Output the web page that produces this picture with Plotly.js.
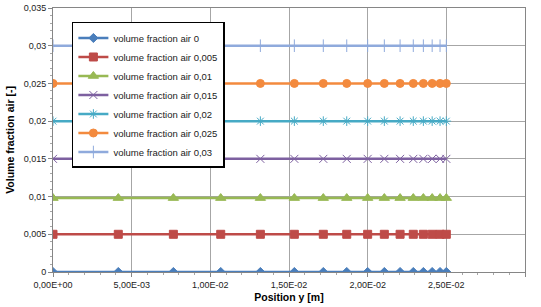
<!DOCTYPE html>
<html>
<head>
<meta charset="utf-8">
<script src="https://cdn.plot.ly/plotly-3.0.1.min.js"></script>
<style>html,body{margin:0;padding:0;background:#fff;}#chart{width:541px;height:307px;}</style>
</head>
<body>
<div id="chart"></div>
<script>
// Data
var positionY = [0, 0.00415, 0.00765, 0.01066, 0.01318, 0.01534, 0.01718, 0.01867, 0.0200, 0.02106, 0.02206, 0.0229, 0.02354, 0.0241, 0.0246, 0.0250];
var seriesNames = ["volume fraction air 0", "volume fraction air 0,005", "volume fraction air 0,01", "volume fraction air 0,015", "volume fraction air 0,02", "volume fraction air 0,025", "volume fraction air 0,03"];
var air0    = [0,0,0,0,0,0,0,0,0,0,0,0,0,0,0,0];
var air0005 = [0.005,0.005,0.005,0.005,0.005,0.005,0.005,0.005,0.005,0.005,0.005,0.005,0.005,0.005,0.005,0.005];
var air001  = [0.0098,0.0098,0.0098,0.0098,0.0098,0.0098,0.0098,0.0098,0.0098,0.0098,0.0098,0.0098,0.0098,0.0098,0.0098,0.0098];
var air0015 = [0.015,0.015,0.015,0.015,0.015,0.015,0.015,0.015,0.015,0.015,0.015,0.015,0.015,0.015,0.015,0.015];
var air002  = [0.02,0.02,0.02,0.02,0.02,0.02,0.02,0.02,0.02,0.02,0.02,0.02,0.02,0.02,0.02,0.02];
var air0025 = [0.025,0.025,0.025,0.025,0.025,0.025,0.025,0.025,0.025,0.025,0.025,0.025,0.025,0.025,0.025,0.025];
var air003  = [0.03,0.03,0.03,0.03,0.03,0.03,0.03,0.03,0.03,0.03,0.03,0.03,0.03,0.03,0.03,0.03];
var xTickVals = [0, 0.005, 0.01, 0.015, 0.02, 0.025, 0.03];
var xTickText = ["0,00E+00", "5,00E-03", "1,00E-02", "1,50E-02", "2,00E-02", "2,50E-02", "3,00E-02"];
var yTickVals = [0, 0.005, 0.01, 0.015, 0.02, 0.025, 0.03, 0.035];
var yTickText = ["0", "0,005", "0,01", "0,015", "0,02", "0,025", "0,03", "0,035"];

var seriesValues = [air0, air0005, air001, air0015, air002, air0025, air003];
var colors = ["#4A7EBB", "#BE4B48", "#98B954", "#7D60A0", "#46AAC5", "#F38A3E", "#8FAADC"];
var symbols = ["diamond", "square", "triangle-up", "x-thin-open", "asterisk-open", "circle", "line-ns-open"];
var sizes = [7, 8, 9, 8, 8, 8, 9];

var traces = seriesValues.map(function (vals, i) {
  return {
    x: positionY,
    y: vals,
    name: seriesNames[i],
    type: "scatter",
    mode: "lines+markers",
    line: {color: colors[i], width: 2.5},
    marker: {symbol: symbols[i], size: sizes[i], color: colors[i], line: {color: colors[i], width: 1}}
  };
});

var layout = {
  width: 541, height: 307,
  margin: {l: 53, r: 16, t: 8, b: 35},
  paper_bgcolor: "#ffffff", plot_bgcolor: "#ffffff",
  font: {family: "Liberation Sans, Arial, sans-serif", size: 9, color: "#222"},
  showlegend: true,
  legend: {
    x: 0.04, y: 0.947, xanchor: "left", yanchor: "top",
    bgcolor: "#ffffff", bordercolor: "#000000", borderwidth: 1.5,
    font: {family: "Liberation Sans, Arial, sans-serif", size: 9.5, color: "#222"},
    tracegroupgap: 0, itemwidth: 30
  },
  xaxis: {
    range: [0, 0.03],
    tickvals: xTickVals, ticktext: xTickText,
    showgrid: true, gridcolor: "#A6A6A6", gridwidth: 1,
    showline: true, linecolor: "#868686", linewidth: 1, mirror: true,
    ticks: "outside", ticklen: 4, tickcolor: "#868686",
    minor: {dtick: 0.001, ticks: "outside", ticklen: 2, tickcolor: "#A6A6A6", showgrid: false},
    zeroline: false,
    title: {text: "Position y [m]", font: {size: 10.5, color: "#000", family: "Liberation Sans, Arial, sans-serif", weight: "bold"}, standoff: 4}
  },
  yaxis: {
    range: [0, 0.035],
    tickvals: yTickVals, ticktext: yTickText,
    showgrid: true, gridcolor: "#A6A6A6", gridwidth: 1,
    showline: true, linecolor: "#868686", linewidth: 1, mirror: true,
    ticks: "outside", ticklen: 4, tickcolor: "#868686",
    minor: {dtick: 0.001, ticks: "outside", ticklen: 2, tickcolor: "#A6A6A6", showgrid: false},
    zeroline: false,
    title: {text: "Volume fraction air [-]", font: {size: 10.5, color: "#000", family: "Liberation Sans, Arial, sans-serif", weight: "bold"}, standoff: 6}
  }
};

Plotly.newPlot("chart", traces, layout, {displayModeBar: false, staticPlot: true});
</script>
</body>
</html>
